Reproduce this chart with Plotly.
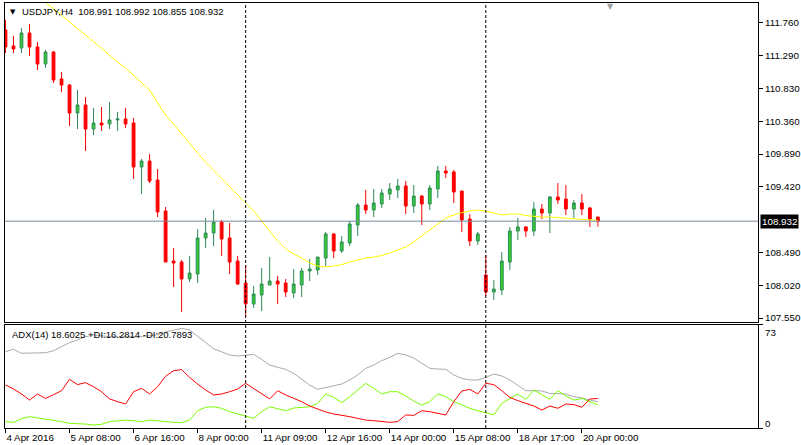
import plotly.graph_objects as go
from plotly.subplots import make_subplots

# ---------------- data ----------------
tick_idx = [0, 8, 16, 24, 32, 40, 48, 56, 64, 72]
tick_labels = ['4 Apr 2016', '5 Apr 08:00', '6 Apr 16:00', '8 Apr 00:00', '11 Apr 09:00',
               '12 Apr 16:00', '14 Apr 00:00', '15 Apr 08:00', '18 Apr 17:00', '20 Apr 00:00']

opens = [111.660, 111.432, 111.403, 111.617, 111.417, 111.175, 111.346, 110.961, 110.875, 110.475,
         110.590, 110.247, 110.333, 110.318, 110.376, 110.390, 110.333, 109.705, 109.790, 109.519,
         109.077, 108.363, 108.349, 108.107, 108.178, 108.692, 108.763, 108.920, 108.692, 108.363,
         108.049, 107.750, 107.878, 108.021, 108.078, 108.049, 107.907, 108.021, 108.221, 108.235,
         108.406, 108.749, 108.506, 108.620, 108.877, 109.162, 109.091, 109.177, 109.320, 109.377,
         109.434, 109.148, 109.291, 109.177, 109.391, 109.648, 109.633, 109.362, 108.963, 108.649,
         108.164, 107.921, 107.950, 108.349, 108.791, 108.849, 108.791, 109.105, 109.048, 109.277,
         109.248, 109.105, 109.191, 109.120, 108.991]
highs = [111.803, 111.574, 111.688, 111.746, 111.489, 111.374, 111.360, 111.061, 110.889, 110.804,
         110.704, 110.547, 110.561, 110.632, 110.490, 110.547, 110.404, 109.819, 109.890, 109.676,
         109.134, 108.549, 108.378, 108.435, 108.820, 108.977, 109.091, 108.948, 108.906, 108.435,
         108.306, 108.007, 108.264, 108.420, 108.149, 108.107, 108.249, 108.264, 108.392, 108.420,
         108.777, 108.763, 108.720, 108.934, 109.191, 109.377, 109.391, 109.391, 109.476, 109.534,
         109.505, 109.448, 109.305, 109.448, 109.719, 109.719, 109.662, 109.362, 109.034, 108.777,
         108.449, 108.092, 108.492, 108.849, 108.977, 108.863, 109.205, 109.177, 109.291, 109.476,
         109.448, 109.234, 109.320, 109.134, 108.992]
lows = [111.332, 111.332, 111.332, 111.289, 111.089, 111.118, 110.904, 110.775, 110.290, 110.247,
        109.933, 110.161, 110.219, 110.247, 110.219, 110.261, 109.534, 109.320, 109.476, 108.991,
        108.349, 107.992, 107.636, 108.064, 108.049, 108.549, 108.577, 108.435, 108.178, 108.021,
        107.564, 107.693, 107.650, 108.021, 107.750, 107.850, 107.835, 107.850, 108.078, 108.164,
        108.292, 108.406, 108.477, 108.577, 108.720, 109.034, 108.991, 109.120, 109.234, 109.262,
        109.034, 109.048, 108.877, 109.091, 109.262, 109.548, 109.191, 108.777, 108.577, 108.592,
        107.864, 107.807, 107.878, 108.235, 108.663, 108.706, 108.720, 108.963, 108.763, 109.177,
        109.020, 108.977, 109.020, 108.849, 108.855]
closes = [111.417, 111.389, 111.617, 111.417, 111.175, 111.346, 110.946, 110.875, 110.475, 110.590,
          110.247, 110.333, 110.304, 110.376, 110.390, 110.318, 109.705, 109.790, 109.505, 109.063,
          108.349, 108.335, 108.107, 108.192, 108.692, 108.763, 108.920, 108.677, 108.349, 108.035,
          107.750, 107.892, 108.035, 108.078, 108.035, 107.921, 108.035, 108.221, 108.249, 108.420,
          108.749, 108.506, 108.635, 108.891, 109.162, 109.091, 109.191, 109.334, 109.391, 109.434,
          109.148, 109.291, 109.177, 109.405, 109.648, 109.619, 109.348, 108.948, 108.649, 108.749,
          107.921, 107.964, 108.363, 108.791, 108.849, 108.791, 109.105, 109.048, 109.277, 109.234,
          109.105, 109.191, 109.105, 108.963, 108.932]

ma = [None, None, None, None, 112.145, 112.059, 111.960, 111.874, 111.774, 111.674,
      111.589, 111.489, 111.389, 111.303, 111.203, 111.118, 111.018, 110.918, 110.804, 110.618,
      110.447, 110.318, 110.176, 110.047, 109.905, 109.776, 109.662, 109.548, 109.434, 109.305,
      109.205, 109.077, 108.934, 108.791, 108.649, 108.535, 108.463, 108.406, 108.335, 108.292,
      108.278, 108.292, 108.313, 108.349, 108.378, 108.406, 108.420, 108.442, 108.477, 108.520,
      108.563, 108.635, 108.720, 108.806, 108.891, 108.977, 109.020, 109.055, 109.077, 109.091,
      109.077, 109.048, 109.020, 109.034, 109.034, 109.012, 108.998, 108.991, 108.991, 108.984,
      108.977, 108.970, 108.963, 108.955, 108.941]

adx = [53.8, 55.5, 52.7, 52.7, 52.7, 53.1, 54.5, 57.1, 60.2, 62.1,
       64.4, 65.6, 64.9, 64.4, 64.4, 64.4, 64.4, 64.4, 65.1, 65.8,
       67.7, 69.1, 70.3, 69.1, 64.9, 60.2, 55.9, 53.8, 51.5, 50.8,
       51.5, 52.0, 48.4, 44.4, 42.8, 41.4, 38.6, 34.3, 30.3, 27.3,
       28.7, 29.6, 31.0, 33.9, 37.4, 42.1, 44.4, 47.5, 49.8, 52.7,
       51.5, 49.4, 45.6, 42.1, 41.6, 41.4, 37.4, 35.0, 33.9, 33.9,
       35.7, 38.1, 36.7, 33.9, 30.1, 26.3, 26.3, 26.1, 24.4, 24.4,
       24.0, 22.1, 21.2, 19.7, 18.6]
plus_di = [4.5, 4.0, 6.6, 8.0, 7.1, 6.3, 5.6, 4.5, 3.3, 3.3,
           2.8, 2.1, 2.6, 4.5, 4.9, 5.6, 5.2, 4.5, 5.6, 4.9,
           4.5, 4.0, 3.8, 5.6, 12.2, 14.6, 15.0, 13.9, 11.5, 9.9,
           8.7, 6.8, 11.5, 15.0, 13.6, 12.2, 14.1, 14.3, 15.0, 17.4,
           24.0, 21.6, 17.9, 22.1, 26.8, 31.5, 28.0, 24.0, 25.6, 25.6,
           22.6, 19.0, 16.2, 18.6, 24.0, 22.1, 18.6, 16.2, 13.9, 12.2,
           10.6, 9.2, 17.4, 20.9, 24.0, 20.2, 26.8, 23.5, 20.2, 26.3,
           22.6, 19.7, 20.9, 18.6, 16.3]
minus_di = [30.3, 27.5, 24.0, 19.7, 24.0, 20.9, 23.5, 26.3, 34.3, 30.6,
            32.0, 29.1, 25.6, 20.5, 18.6, 16.9, 25.6, 28.0, 24.0, 29.1,
            36.5, 40.4, 41.2, 35.7, 31.0, 26.8, 23.3, 24.0, 25.6, 27.5,
            31.5, 28.0, 24.0, 20.5, 26.3, 23.3, 20.9, 18.6, 15.5, 13.2,
            11.3, 9.9, 9.2, 8.0, 6.8, 5.6, 5.2, 4.5, 4.0, 4.5,
            9.2, 8.9, 12.2, 11.5, 10.3, 9.2, 18.6, 26.1, 27.3, 24.0,
            31.5, 30.6, 26.3, 21.6, 19.3, 17.4, 15.5, 12.7, 15.5, 13.9,
            16.9, 16.5, 14.6, 20.5, 20.8]

price_ticks = [111.760, 111.290, 110.830, 110.360, 109.890, 109.420, 108.490, 108.020, 107.550]
last_price = 108.932
separators = [30, 60]
header = 'USDJPY,H4  108.991 108.992 108.855 108.932'
adx_header = 'ADX(14) 18.6025 +DI:16.2814 -DI:20.7893'

x = list(range(len(closes)))

# ---------------- figure ----------------
fig = make_subplots(rows=2, cols=1, shared_xaxes=True)
FONT = 'Liberation Sans'
FS = 9.8

fig.add_trace(go.Candlestick(
    x=x, open=opens, high=highs, low=lows, close=closes,
    increasing=dict(line=dict(color='#2E8B57', width=1), fillcolor='#32CD32'),
    decreasing=dict(line=dict(color='#FF0000', width=1), fillcolor='#FF0000'),
    whiskerwidth=0, hoverinfo='skip', showlegend=False), row=1, col=1)

fig.add_trace(go.Scatter(x=x, y=ma, mode='lines', line=dict(color='#FFFF00', width=1),
                         hoverinfo='skip', showlegend=False), row=1, col=1)

fig.add_trace(go.Scatter(x=x, y=adx, mode='lines', line=dict(color='#A9A9A9', width=1),
                         hoverinfo='skip', showlegend=False), row=2, col=1)
fig.add_trace(go.Scatter(x=x, y=plus_di, mode='lines', line=dict(color='#7CFC00', width=1),
                         hoverinfo='skip', showlegend=False), row=2, col=1)
fig.add_trace(go.Scatter(x=x, y=minus_di, mode='lines', line=dict(color='#FF0000', width=1),
                         hoverinfo='skip', showlegend=False), row=2, col=1)

xr = [-0.06, 94.0]
common_x = dict(range=xr, showgrid=False, zeroline=False, showline=True, mirror=True,
                linecolor='black', linewidth=1, automargin=False)
fig.update_layout(
    width=801, height=445,
    margin=dict(l=5, r=43, t=3, b=17),
    paper_bgcolor='white', plot_bgcolor='white',
    font=dict(family=FONT, size=FS, color='black'),
    showlegend=False,
    boxgap=0.5,
    xaxis=dict(**common_x, showticklabels=False, ticks='', rangeslider=dict(visible=False)),
    xaxis2=dict(**common_x, ticks='outside', ticklen=4, tickcolor='black', tickangle=0,
                tickvals=tick_idx, ticktext=tick_labels, ticklabelposition='outside right',
                tickfont=dict(family=FONT, size=FS, color='black')),
    yaxis=dict(domain=[0.2494, 1.0], range=[107.493, 112.045], side='right', automargin=False,
               showgrid=False, zeroline=False, showline=True, mirror=True,
               linecolor='black', linewidth=1, ticks='outside', ticklen=4, tickcolor='black',
               tickvals=price_ticks, ticktext=['%.3f' % v for v in price_ticks],
               tickfont=dict(family=FONT, size=FS, color='black')),
    yaxis2=dict(domain=[0.0, 0.2435], range=[0, 73], side='right', automargin=False,
                showgrid=False, zeroline=False, showline=True, mirror=True,
                linecolor='black', linewidth=1, ticks='outside', ticklen=4, tickcolor='black',
                tickvals=[0, 73], ticktext=['', '']),
)

shapes = []
for s in separators:
    shapes.append(dict(type='line', xref='x', yref='paper', x0=s, x1=s, y0=0, y1=1,
                       line=dict(color='black', width=1, dash='3px,2px')))
shapes.append(dict(type='line', xref='paper', yref='y', x0=0, x1=1, y0=last_price, y1=last_price,
                   line=dict(color='#778899', width=1)))
fig.update_layout(shapes=shapes)

ann = [
    dict(text='▼', xref='paper', yref='paper', x=(12.5 - 5) / 753, y=(428 - 12) / 425,
         xanchor='center', yanchor='middle', showarrow=False,
         font=dict(family='DejaVu Sans', size=7, color='black')),
    dict(text=header, xref='paper', yref='paper', x=(20 - 5) / 753, y=(428 - 12) / 425,
         xanchor='left', yanchor='middle', showarrow=False,
         font=dict(family=FONT, size=9.5, color='black')),
    dict(text=adx_header, xref='paper', yref='paper', x=(10 - 5) / 753, y=(428 - 334) / 425,
         xanchor='left', yanchor='middle', showarrow=False,
         font=dict(family=FONT, size=9.5, color='black')),
    dict(text='▼', xref='paper', yref='paper', x=(610 - 5) / 753, y=(428 - 6) / 425,
         xanchor='center', yanchor='middle', showarrow=False,
         font=dict(family='DejaVu Sans', size=8, color='#A0A0A0')),
    dict(text='%.3f' % last_price, xref='paper', yref='y', x=(760 - 5) / 753, y=last_price,
         xanchor='left', yanchor='middle', showarrow=False, bgcolor='black', borderpad=1,
         font=dict(family=FONT, size=FS, color='white')),
    dict(text='73', xref='paper', yref='paper', x=(763 - 5) / 753, y=(428 - 332) / 425,
         xanchor='left', yanchor='middle', showarrow=False,
         font=dict(family=FONT, size=FS, color='black')),
    dict(text='0', xref='paper', yref='paper', x=(763 - 5) / 753, y=(428 - 423) / 425,
         xanchor='left', yanchor='middle', showarrow=False,
         font=dict(family=FONT, size=FS, color='black')),
]
fig.update_layout(annotations=ann)

fig.write_html("out.html", config={'displayModeBar': False},
               post_script="document.body.style.margin='0px';document.body.style.overflow='hidden';")
